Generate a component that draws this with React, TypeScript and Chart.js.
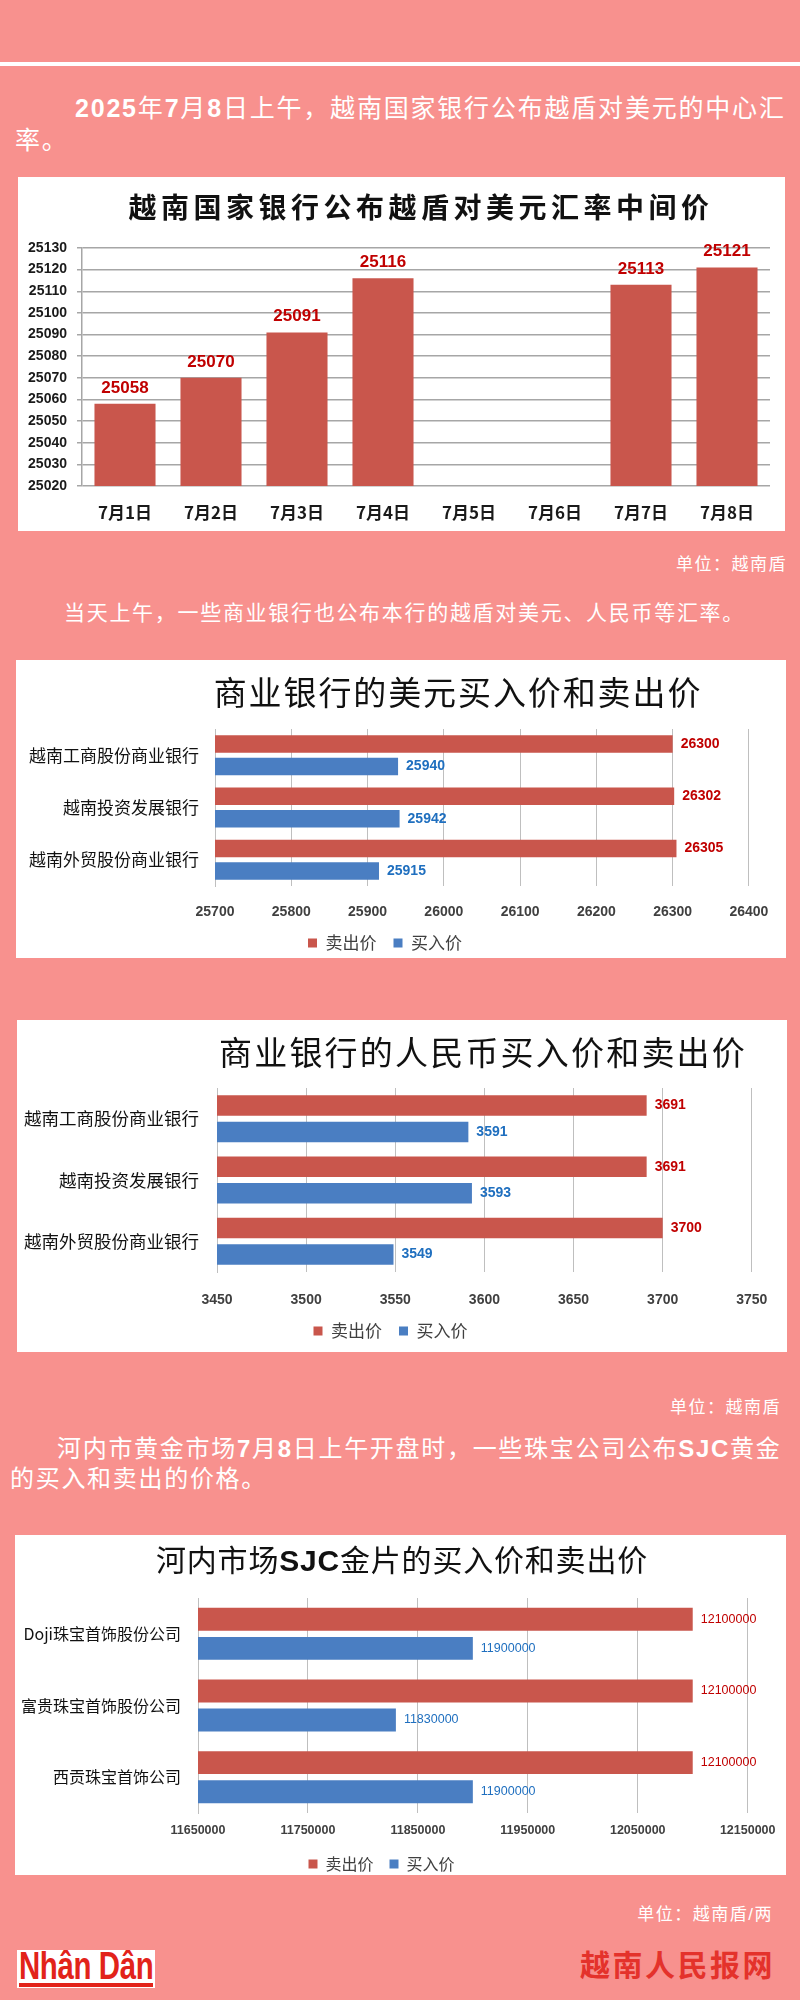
import React, { useEffect, useRef } from 'react';
import { Chart, registerables } from 'chart.js';

Chart.register(...registerables);

// ---------- data ----------
const midDates = ['7月1日', '7月2日', '7月3日', '7月4日', '7月5日', '7月6日', '7月7日', '7月8日'];
const midRates = [25058, 25070, 25091, 25116, null, null, 25113, 25121];
const midMin = 25020;
const midMax = 25130;
const midStep = 10;

const seriesNames = ['卖出价', '买入价'];

const banks = ['越南工商股份商业银行', '越南投资发展银行', '越南外贸股份商业银行'];
const usdSell = [26300, 26302, 26305];
const usdBuy = [25940, 25942, 25915];
const usdMin = 25700;
const usdMax = 26400;
const usdStep = 100;

const cnySell = [3691, 3691, 3700];
const cnyBuy = [3591, 3593, 3549];
const cnyMin = 3450;
const cnyMax = 3750;
const cnyStep = 50;

const jewelers = ['Doji珠宝首饰股份公司', '富贵珠宝首饰股份公司', '西贡珠宝首饰公司'];
const goldSell = [12100000, 12100000, 12100000];
const goldBuy = [11900000, 11830000, 11900000];
const goldMin = 11650000;
const goldMax = 12150000;
const goldStep = 100000;

// ---------- styles ----------
const PINK = '#F8918E';
const BAR_RED = '#C9564C';
const BAR_BLUE = '#4A7EC2';
const LABEL_RED = '#C00000';
const LABEL_BLUE = '#1F6FBF';
const CJK = "'Noto Sans CJK SC', sans-serif";
const NUM = "'Liberation Sans', Arial, sans-serif";
const MIX = "'Liberation Sans', 'Noto Sans CJK SC', sans-serif";

const valueLabelPlugin = {
  id: 'valueLabels',
  afterDatasetsDraw(chart: any, _args: any, opts: any) {
    const { ctx } = chart;
    const horizontal = chart.options.indexAxis === 'y';
    chart.data.datasets.forEach((ds: any, i: number) => {
      const meta = chart.getDatasetMeta(i);
      meta.data.forEach((el: any, j: number) => {
        const v = ds.data[j];
        if (v === null || v === undefined) return;
        ctx.save();
        ctx.fillStyle = ds.labelColor;
        ctx.font = opts.font;
        if (horizontal) {
          ctx.textAlign = 'left';
          ctx.textBaseline = 'middle';
          ctx.fillText(String(v), el.x + opts.offset, el.y);
        } else {
          ctx.textAlign = 'center';
          ctx.textBaseline = 'alphabetic';
          ctx.fillText(String(v), el.x, el.y - opts.offset);
        }
        ctx.restore();
      });
    });
  },
};

const midConfig: any = {
  type: 'bar',
  data: {
    labels: midDates,
    datasets: [
      {
        label: '中间价',
        data: midRates,
        backgroundColor: BAR_RED,
        labelColor: LABEL_RED,
        barPercentage: 0.71,
        categoryPercentage: 1,
      },
    ],
  },
  options: {
    responsive: false,
    animation: false,
    layout: { padding: { top: 71, right: 15, bottom: 0, left: 0 } },
    scales: {
      x: {
        grid: { display: false, drawTicks: false },
        border: { display: false },
        ticks: { font: { family: CJK, size: 17, weight: 'bold' }, color: '#1a1a1a', padding: 16 },
        afterFit: (s: any) => { s.height = 45; },
      },
      y: {
        min: midMin,
        max: midMax,
        ticks: {
          stepSize: midStep,
          font: { family: NUM, size: 14, weight: 'bold' },
          color: '#1a1a1a',
          padding: 10,
          callback: (v: any) => String(v),
        },
        grid: { color: '#A6A6A6', lineWidth: 1.5, tickLength: 5 },
        border: { color: '#A6A6A6', width: 1.5 },
        afterFit: (s: any) => { s.width = 64; },
      },
    },
    plugins: {
      legend: { display: false },
      tooltip: { enabled: false },
      valueLabels: { font: `bold 17px ${NUM}`, offset: 11 },
    },
  },
  plugins: [valueLabelPlugin],
};

function hbarConfig(p: any): any {
  return {
    type: 'bar',
    data: {
      labels: p.labels,
      datasets: [
        { label: seriesNames[0], data: p.sell, backgroundColor: BAR_RED, labelColor: LABEL_RED },
        { label: seriesNames[1], data: p.buy, backgroundColor: BAR_BLUE, labelColor: LABEL_BLUE },
      ],
    },
    options: {
      indexAxis: 'y',
      responsive: false,
      animation: false,
      datasets: { bar: { categoryPercentage: p.cat, barPercentage: p.bar } },
      layout: { padding: { top: p.top, right: p.right, bottom: p.bottom, left: 0 } },
      scales: {
        x: {
          min: p.min,
          max: p.max,
          ticks: {
            stepSize: p.step,
            font: { family: NUM, size: p.tickSize, weight: 'bold' },
            color: '#404040',
            padding: p.xPad,
            callback: (v: any) => String(v),
          },
          grid: { color: '#BFBFBF', drawTicks: false },
          border: { display: false },
          afterFit: (s: any) => { s.height = p.axisH; },
        },
        y: {
          ticks: { font: { family: CJK, size: p.catSize }, color: '#111', padding: p.yPad },
          grid: { display: false, drawTicks: false },
          border: { color: '#BFBFBF' },
          afterFit: (s: any) => { s.width = p.left; },
        },
      },
      plugins: {
        legend: {
          position: 'bottom',
          maxHeight: p.legH,
          labels: {
            boxWidth: 9,
            boxHeight: 9,
            padding: p.legPad,
            font: { family: CJK, size: p.legSize },
            color: '#404040',
          },
        },
        tooltip: { enabled: false },
        valueLabels: { font: `${p.valWeight} ${p.valSize}px ${NUM}`, offset: 8 },
      },
    },
    plugins: [valueLabelPlugin],
  };
}

const usdConfig = hbarConfig({
  labels: banks, sell: usdSell, buy: usdBuy, min: usdMin, max: usdMax, step: usdStep,
  cat: 0.86, bar: 0.78, top: 69, right: 32, bottom: 4.5, left: 199,
  tickSize: 14, xPad: 17.6, axisH: 31.5, catSize: 17, yPad: 16,
  legH: 36, legPad: 17, legSize: 17, valSize: 14, valWeight: 'bold',
});

const cnyConfig = hbarConfig({
  labels: banks, sell: cnySell, buy: cnyBuy, min: cnyMin, max: cnyMax, step: cnyStep,
  cat: 0.865, bar: 0.774, top: 68, right: 23, bottom: 10.5, left: 200,
  tickSize: 14, xPad: 19.6, axisH: 33.5, catSize: 17.5, yPad: 18,
  legH: 36, legPad: 17, legSize: 17, valSize: 14, valWeight: 'bold',
});

const goldConfig = hbarConfig({
  labels: jewelers, sell: goldSell, buy: goldBuy, min: goldMin, max: goldMax, step: goldStep,
  cat: 0.81, bar: 0.79, top: 63, right: 38, bottom: 3, left: 183,
  tickSize: 12.5, xPad: 10.5, axisH: 27, catSize: 16, yPad: 17,
  legH: 32, legPad: 16, legSize: 16, valSize: 12.5, valWeight: 'normal',
});

function ChartBox({ config, left, top, width, height }: any) {
  const ref = useRef<HTMLCanvasElement>(null);
  useEffect(() => {
    const chart = new Chart(ref.current as HTMLCanvasElement, config);
    return () => chart.destroy();
  }, []);
  return (
    <div style={{ position: 'absolute', left, top, width, height, background: '#fff' }}>
      <canvas ref={ref} width={width} height={height} style={{ display: 'block', width, height }} />
    </div>
  );
}

function Line({ children, left, right, cy, size, ls, lh, color = '#fff', weight = 400, family = MIX }: any) {
  const h = lh || Math.round(size * 1.3);
  const style: any = {
    position: 'absolute',
    top: cy - h / 2,
    height: h,
    lineHeight: `${h}px`,
    fontSize: size,
    letterSpacing: ls,
    color,
    fontWeight: weight,
    fontFamily: family,
    whiteSpace: 'nowrap',
  };
  if (left !== undefined) style.left = left;
  if (right !== undefined) style.right = right;
  return <div style={style}>{children}</div>;
}

function Title({ children, cx, cy, size, ls, weight = 400 }: any) {
  const h = Math.round(size * 1.3);
  return (
    <div
      style={{
        position: 'absolute',
        left: cx,
        top: cy - h / 2,
        height: h,
        lineHeight: `${h}px`,
        transform: 'translateX(-50%)',
        fontSize: size,
        letterSpacing: ls,
        fontWeight: weight,
        fontFamily: MIX,
        color: '#111',
        whiteSpace: 'nowrap',
      }}
    >
      {children}
    </div>
  );
}

const B = ({ children }: any) => <b style={{ fontFamily: NUM }}>{children}</b>;

function Logo() {
  const ref = useRef<HTMLDivElement>(null);
  useEffect(() => {
    const el = ref.current;
    if (!el) return;
    const w = el.scrollWidth;
    if (w > 0) el.style.transform = `scaleX(${134 / w})`;
  }, []);
  return (
    <div style={{ position: 'absolute', left: 17, top: 1950, width: 138, height: 38, background: '#fff', overflow: 'hidden' }}>
      <div
        ref={ref}
        style={{
          position: 'absolute',
          left: 2,
          top: -4,
          transformOrigin: '0 0',
          fontFamily: "'Liberation Sans Narrow', 'Liberation Sans', sans-serif",
          fontWeight: 700,
          fontSize: 38,
          lineHeight: '40px',
          color: '#E2231A',
          letterSpacing: -0.5,
          whiteSpace: 'nowrap',
        }}
      >
        Nhân Dân
      </div>
      <div style={{ position: 'absolute', left: 2, top: 33, width: 134, height: 4, background: '#E2231A' }} />
    </div>
  );
}

export default function App() {
  useEffect(() => {
    document.body.style.margin = '0';
  }, []);
  return (
    <div style={{ position: 'absolute', left: 0, top: 0, width: 800, height: 2000, background: PINK, overflow: 'hidden', fontFamily: MIX }}>
      <div style={{ position: 'absolute', left: 0, top: 62, width: 800, height: 4, background: '#fff' }} />

      <Line left={75} cy={108} size={25} ls={1.8}>
        <B>2025</B>年<B>7</B>月<B>8</B>日上午，越南国家银行公布越盾对美元的中心汇
      </Line>
      <Line left={15} cy={140} size={25} ls={1.8}>率。</Line>

      <ChartBox config={midConfig} left={18} top={177} width={767} height={354} />
      <Title cx={421} cy={209} size={28} ls={4.5} weight={700}>越南国家银行公布越盾对美元汇率中间价</Title>

      <Line right={13} cy={565} size={17} ls={1.5}>单位：越南盾</Line>
      <Line left={64} cy={612} size={21} ls={1.7}>当天上午，一些商业银行也公布本行的越盾对美元、人民币等汇率。</Line>

      <ChartBox config={usdConfig} left={16} top={660} width={770} height={298} />
      <Title cx={458} cy={693} size={33} ls={1.9}>商业银行的美元买入价和卖出价</Title>

      <ChartBox config={cnyConfig} left={17} top={1020} width={770} height={332} />
      <Title cx={483} cy={1053} size={33} ls={2.2}>商业银行的人民币买入价和卖出价</Title>

      <Line right={19} cy={1408} size={17} ls={1.5}>单位：越南盾</Line>
      <Line left={57} cy={1448} size={24} ls={1.7}>
        河内市黄金市场<B>7</B>月<B>8</B>日上午开盘时，一些珠宝公司公布<B>SJC</B>黄金
      </Line>
      <Line left={10} cy={1478} size={24} ls={1.7}>的买入和卖出的价格。</Line>

      <ChartBox config={goldConfig} left={15} top={1535} width={771} height={340} />
      <Title cx={402} cy={1560} size={30} ls={0.8}>
        河内市场<B>SJC</B>金片的买入价和卖出价
      </Title>

      <Line right={27} cy={1915} size={17} ls={1.5}>单位：越南盾/两</Line>

      <Logo />
      <Line left={580} cy={1963} size={30} ls={2.5} weight={700} color="#E4322B" family={CJK}>越南人民报网</Line>
    </div>
  );
}
